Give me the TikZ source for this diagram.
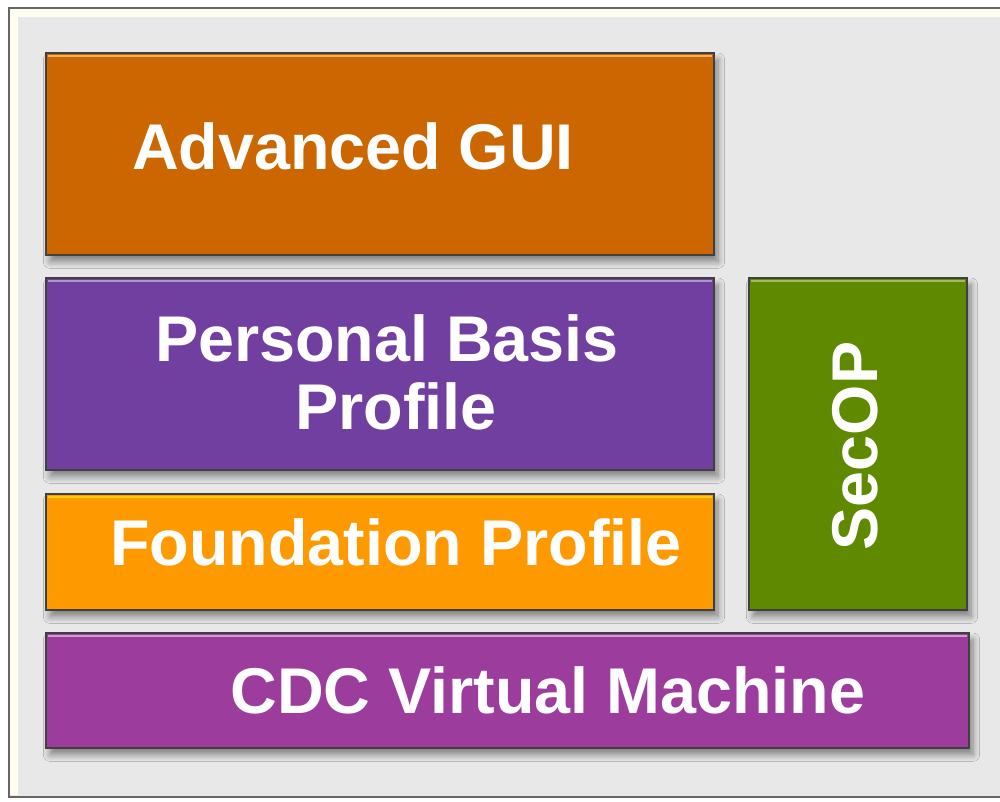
\documentclass[tikz,border=0pt]{standalone}
\usepackage{fontspec}
\setmainfont{Liberation Sans}
\usetikzlibrary{shadows.blur}
\definecolor{bggray}{HTML}{E8E8E8}
\definecolor{guiorange}{HTML}{CC6600}
\definecolor{pbppurple}{HTML}{703FA0}
\definecolor{fporange}{HTML}{FF9900}
\definecolor{secgreen}{HTML}{5F8A00}
\definecolor{cdcpurple}{HTML}{9C3C9C}
\tikzset{
  layer/.style={draw=black!75, line width=1pt, blur shadow={shadow xshift=3pt, shadow yshift=-5pt, shadow blur steps=8, shadow blur radius=5pt, shadow opacity=45}},
  label/.style={text=white, font=\fontsize{48.5}{54}\selectfont\bfseries, align=center, inner sep=0pt},
}
\begin{document}
\begin{tikzpicture}[x=0.75pt, y=-0.75pt]
\useasboundingbox (0,0) rectangle (1000,802);
\fill[white] (0,0) rectangle (1000,802);
% outer frame
\filldraw[fill=bggray, draw=black!60, line width=1.2pt] (9,8) rectangle (1004,797);
\draw[color=yellow!6, line width=6pt] (14,795) -- (14,13) -- (1004,13);
% boxes
\fill[guiorange, layer] (46,53) rectangle (714,255);
\draw[orange!60!white, line width=2pt] (48,56) -- (712,56);
\fill[pbppurple, layer] (46,278) rectangle (714,470);
\draw[pbppurple!55!white, line width=2pt] (48,281) -- (712,281);
\fill[fporange, layer] (46,494) rectangle (714,610);
\draw[fporange!50!yellow, line width=2pt] (48,497) -- (712,497);
\fill[secgreen, layer] (749,278) rectangle (967,610);
\draw[secgreen!60!white, line width=2pt] (751,281) -- (965,281);
\fill[cdcpurple, layer] (46,633) rectangle (969,748);
\draw[cdcpurple!50!white, line width=2pt] (48,636) -- (967,636);
% labels
\node[label] (gui) at (353,146) {Advanced GUI};
\node[label] (pbp) at (387,338) {Personal Basis};
\node[label] (pbp2) at (396,406) {Profile};
\node[label] (fp) at (396,542) {Foundation Profile};
\node[label, rotate=90] (sec) at (855,446) {SecOP};
\node[label] (cdc) at (548,690) {CDC Virtual Machine};
\end{tikzpicture}
\end{document}
